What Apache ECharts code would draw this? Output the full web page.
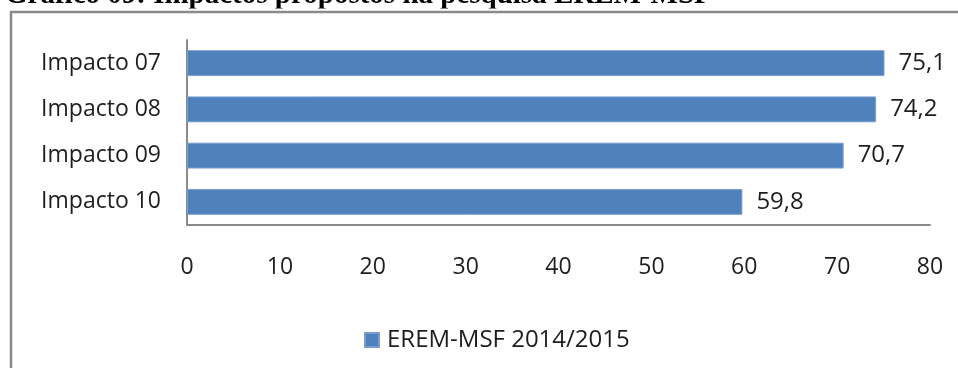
<!DOCTYPE html>
<html>
<head>
<meta charset="utf-8">
<script src="https://cdn.jsdelivr.net/npm/echarts@6/dist/echarts.min.js"></script>
<style>
  html, body { margin: 0; padding: 0; background: #fff; }
  #chart { width: 958px; height: 368px; }
</style>
</head>
<body>
<div id="chart"></div>
<script>
// Impact categories and scores (EREM-MSF 2014/2015)
const categories = ['Impacto 07', 'Impacto 08', 'Impacto 09', 'Impacto 10'];
const seriesName = 'EREM-MSF 2014/2015';
const values = [75.1, 74.2, 70.7, 59.8];
const xTicks = { min: 0, max: 80, interval: 10 };
const heading = 'Gráfico 09: Impactos propostos na pesquisa EREM-MSF';

const FONT = '"Open Sans", "Liberation Sans", sans-serif';
const TEXT = '#1e1e1e';
const LINE = '#8a8a8a';

const chart = echarts.init(document.getElementById('chart'), null, { renderer: 'canvas' });

chart.setOption({
  animation: false,
  backgroundColor: '#ffffff',
  textStyle: { fontFamily: FONT },
  graphic: [
    {
      type: 'text',
      left: 5,
      top: -19,
      z: 10,
      style: {
        text: heading,
        font: 'bold 29px "Liberation Serif", "Times New Roman", serif',
        fill: '#000'
      }
    },
    {
      type: 'rect',
      z: 11,
      shape: { x: 0, y: 8.5, width: 958, height: 3 },
      style: { fill: '#fff' }
    },
    {
      type: 'rect',
      z: 12,
      shape: { x: 11, y: 12, width: 980, height: 400 },
      style: { fill: 'none', stroke: LINE, lineWidth: 2.5 }
    }
  ],
  grid: { left: 187, right: 28, top: 40, bottom: 143, containLabel: false },
  legend: {
    data: [seriesName],
    left: 359,
    top: 323,
    icon: 'rect',
    itemWidth: 14,
    itemHeight: 14,
    itemGap: 8,
    textStyle: { fontSize: 24, color: TEXT, fontFamily: FONT, padding: [0, 0, 0, 3] }
  },
  xAxis: {
    type: 'value',
    min: xTicks.min,
    max: xTicks.max,
    interval: xTicks.interval,
    axisLine: { show: true, lineStyle: { color: LINE, width: 2 } },
    axisTick: { show: false },
    splitLine: { show: false },
    axisLabel: { fontSize: 23, color: TEXT, margin: 31, fontFamily: FONT }
  },
  yAxis: {
    type: 'category',
    data: categories,
    inverse: true,
    axisLine: { show: true, lineStyle: { color: LINE, width: 2 } },
    axisTick: { show: false },
    axisLabel: { fontSize: 23, color: TEXT, margin: 26, fontFamily: FONT }
  },
  series: [
    {
      name: seriesName,
      type: 'bar',
      data: values,
      barWidth: '56%',
      itemStyle: { color: '#4F81BD', borderColor: '#7a9fcf', borderWidth: 1 },
      label: {
        show: true,
        position: 'right',
        distance: 14,
        fontSize: 24,
        color: TEXT,
        fontFamily: FONT,
        formatter: p => p.value.toFixed(1).replace('.', ',')
      }
    }
  ]
});
</script>
</body>
</html>
